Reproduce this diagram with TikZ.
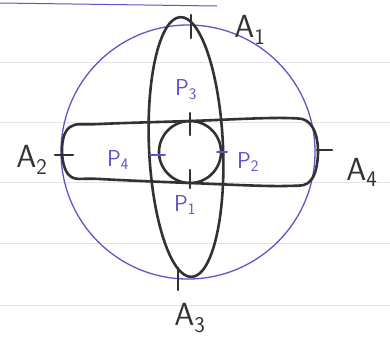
\documentclass[tikz,border=0pt]{standalone}
\usepackage{tikz}
\definecolor{pen}{RGB}{50,50,50}
\definecolor{ink}{RGB}{95,85,200}
\definecolor{rule}{RGB}{226,228,235}
\begin{document}
\begin{tikzpicture}[x=1pt,y=-1pt,
  blackline/.style={draw=pen,line width=2.6pt,line join=round,line cap=round},
  blueline/.style={draw=ink,line width=1.3pt,line cap=round},
  alabel/.style={text=pen,font=\fontsize{32}{32}\selectfont\sffamily,inner sep=0pt},
  plabel/.style={text=ink,font=\fontsize{23}{23}\selectfont\sffamily,inner sep=0pt}]
\useasboundingbox (0,0) rectangle (390,349);
\fill[white] (0,0) rectangle (390,349);
% ruled paper lines
\foreach \yy in {62,122,182,243,305} \draw[rule,line width=1pt] (0,\yy) -- (390,\yy);
\draw[ink,line width=1pt] (0,3) -- (217,6);
% big blue circle
\draw[blueline] (188,152) circle[radius=127];
% vertical loop
\draw[blackline] (186,147) ellipse[x radius=37,y radius=130,rotate=2.5];
% horizontal loop
\draw[blackline] plot[smooth cycle,tension=0.6] coordinates {(100,124) (190,121) (285,118) (310,124) (318,150) (311,180) (285,186) (190,183) (100,179) (70,176) (62,150) (70,127)};
% small circle
\draw[blackline] (190,152) circle[radius=31];
% A ticks
\draw[blackline] (191,15) -- (191,38);
\draw[blackline] (178,268) -- (178,290);
\draw[blackline] (55,155) -- (73,155);
\draw[blackline] (317,150) -- (332,150);
% P ticks
\draw[blackline] (190,113) -- (190,135);
\draw[blackline] (190,170) -- (190,188);
\draw[blueline,line width=2pt] (150,155) -- (165,155);
\draw[blueline,line width=2pt] (217,152) -- (227,152);
% labels
\node[alabel] (A1) at (250,30) {A\textsubscript{1}};
\node[alabel] (A2) at (32,160) {A\textsubscript{2}};
\node[alabel] (A3) at (190,318) {A\textsubscript{3}};
\node[alabel] (A4) at (362,172) {A\textsubscript{4}};
\node[plabel] (P3) at (186,90) {P\textsubscript{3}};
\node[plabel] (P4) at (118,160) {P\textsubscript{4}};
\node[plabel] (P2) at (248,162) {P\textsubscript{2}};
\node[plabel] (P1) at (185,205) {P\textsubscript{1}};
\end{tikzpicture}
\end{document}
